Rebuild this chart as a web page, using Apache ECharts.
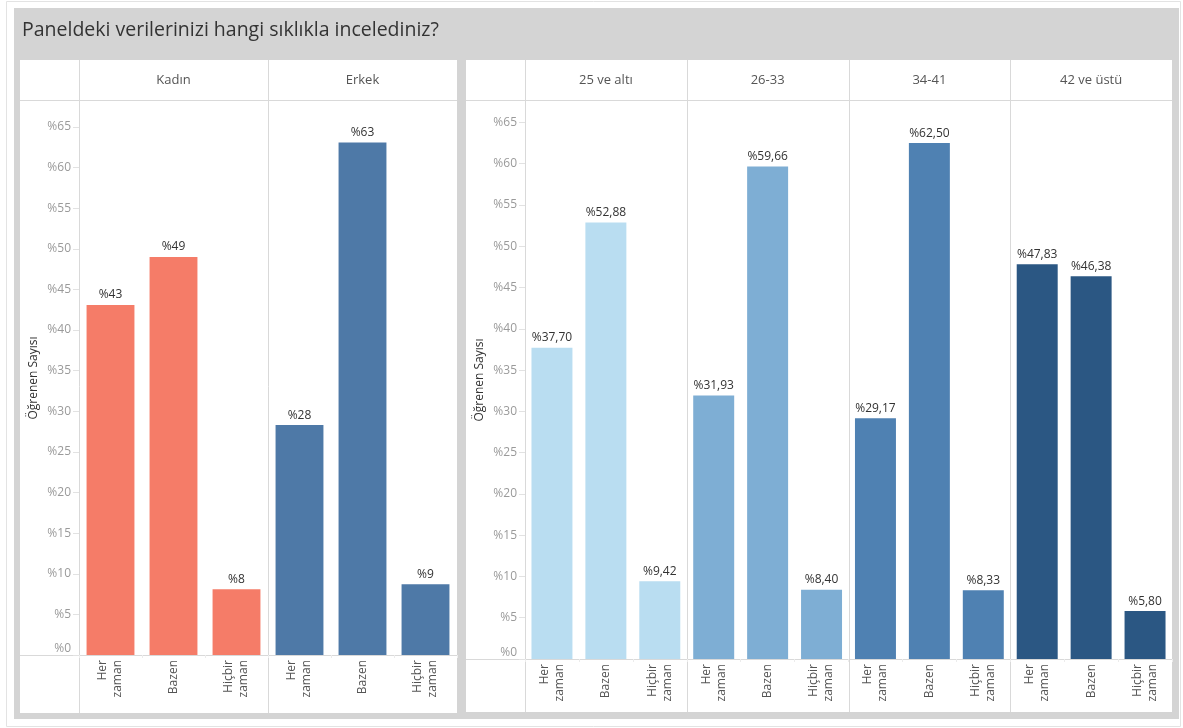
<!DOCTYPE html>
<html>
<head>
<meta charset="utf-8">
<title>Paneldeki verilerinizi hangi sıklıkla incelediniz?</title>
<script src="https://cdn.jsdelivr.net/npm/echarts@6/dist/echarts.min.js"></script>
<style>
  html, body { margin: 0; padding: 0; background: #ffffff; }
  #chart { width: 1183px; height: 728px; }
</style>
</head>
<body>
<div id="chart"></div>
<script>
// Survey answers: how often respondents review their panel data (percent of learners)
const categories = ['Her\nzaman', 'Bazen', 'Hiçbir\nzaman'];

const genderGroups = ['Kadın', 'Erkek'];
const kadinValues = [43.1, 49.0, 8.1];
const erkekValues = [28.3, 63.1, 8.7];

const ageGroups = ['25 ve altı', '26-33', '34-41', '42 ve üstü'];
const age25Values = [37.70, 52.88, 9.42];
const age26Values = [31.93, 59.66, 8.40];
const age34Values = [29.17, 62.50, 8.33];
const age42Values = [47.83, 46.38, 5.80];

const yTicks = [0, 5, 10, 15, 20, 25, 30, 35, 40, 45, 50, 55, 60, 65];

const titleText = 'Paneldeki verilerinizi hangi sıklıkla incelediniz?';
const yAxisTitle = 'Öğrenen Sayısı';

const genderColors = ['#f57c68', '#4e79a7'];
const ageColors = ['#b9ddf1', '#7eaed4', '#4f81b2', '#2b5783'];

const FONT = '"Open Sans", "Noto Sans", sans-serif';
const LINE = '#d9d9d9';

// Panel geometry
const left = { x0: 20, x1: 457, axisX: 79, top: 101, zero: 655, bottom: 713, max: 68.2 };
const right = { x0: 466, x1: 1172, axisX: 525, top: 101, zero: 659, bottom: 712, max: 67.6 };

const genderSeries = [kadinValues, erkekValues];
const ageSeries = [age25Values, age26Values, age34Values, age42Values];

const fmtInt = p => '%' + Math.round(p.value);
const fmtDec = p => '%' + p.value.toFixed(2).replace('.', ',');

const grids = [], xAxes = [], yAxes = [], series = [], graphics = [];

function facetBounds(panel, count) {
  const w = (panel.x1 - panel.axisX) / count;
  const out = [];
  for (let i = 0; i < count; i++) {
    out.push([panel.axisX + i * w, panel.axisX + (i + 1) * w]);
  }
  return out;
}

function addFacet(panel, x0, x1, values, color, firstInPanel, fmt) {
  const idx = grids.length;
  grids.push({
    left: x0, width: x1 - x0,
    top: panel.top, height: panel.zero - panel.top,
    containLabel: false
  });
  xAxes.push({
    type: 'category', gridIndex: idx, data: categories,
    axisLine: { show: true, lineStyle: { color: LINE, width: 1 } },
    axisTick: { show: true, length: 3, interval: 0, lineStyle: { color: '#ececec' } },
    axisLabel: {
      interval: 0, rotate: 90, margin: 5,
      color: '#555', fontFamily: FONT, fontSize: 12, lineHeight: 15
    },
    splitLine: { show: false }
  });
  yAxes.push({
    type: 'value', gridIndex: idx, min: 0, max: panel.max, interval: 5,
    show: firstInPanel,
    name: firstInPanel ? yAxisTitle : '',
    nameLocation: 'middle', nameRotate: 90, nameGap: 39,
    nameTextStyle: { color: '#333', fontFamily: FONT, fontSize: 12 },
    axisLine: { show: false },
    axisTick: {
      show: true, length: 6, customValues: yTicks,
      lineStyle: { color: '#e2e2e2' }
    },
    axisLabel: {
      customValues: yTicks, margin: 8,
      color: '#9a9a9a', fontFamily: FONT, fontSize: 12,
      formatter: v => (v === 0 ? '{z|%0}' : '%' + v),
      rich: { z: { color: '#9a9a9a', fontFamily: FONT, fontSize: 12, padding: [0, 0, 12, 0] } }
    },
    splitLine: { show: false }
  });
  series.push({
    type: 'bar', xAxisIndex: idx, yAxisIndex: idx,
    data: values, barCategoryGap: '24%',
    itemStyle: { color: color },
    label: {
      show: true, position: 'top', distance: 4,
      color: '#333', fontFamily: FONT, fontSize: 12,
      formatter: fmt
    }
  });
}

// Left panel: gender
facetBounds(left, genderGroups.length).forEach((b, i) => {
  addFacet(left, b[0], b[1], genderSeries[i], genderColors[i], i === 0, fmtInt);
});
// Right panel: age
facetBounds(right, ageGroups.length).forEach((b, i) => {
  addFacet(right, b[0], b[1], ageSeries[i], ageColors[i], i === 0, fmtDec);
});

// Frames, headers and dividers
graphics.push({ type: 'rect', z: -20, shape: { x: 6.5, y: 1.5, width: 1174, height: 725 },
  style: { fill: '#ffffff', stroke: '#e3e3e3', lineWidth: 1 } });
graphics.push({ type: 'rect', z: -19, shape: { x: 14, y: 8, width: 1165, height: 711 },
  style: { fill: '#d4d4d4' } });
graphics.push({ type: 'text', z: -10, x: 22, y: 30,
  style: { text: titleText, fill: '#333', font: '19.5px ' + FONT, textVerticalAlign: 'middle' } });

function panelFrame(panel, headers) {
  graphics.push({ type: 'rect', z: -18,
    shape: { x: panel.x0, y: 60, width: panel.x1 - panel.x0, height: panel.bottom - 60 },
    style: { fill: '#ffffff' } });
  // header separator
  graphics.push({ type: 'line', z: -15,
    shape: { x1: panel.x0, y1: 100.5, x2: panel.x1, y2: 100.5 },
    style: { stroke: LINE, lineWidth: 1 } });
  // zero line under the y-axis column
  graphics.push({ type: 'line', z: -15,
    shape: { x1: panel.x0, y1: panel.zero + 0.5, x2: panel.axisX, y2: panel.zero + 0.5 },
    style: { stroke: LINE, lineWidth: 1 } });
  const bounds = facetBounds(panel, headers.length);
  bounds.forEach((b, i) => {
    const x = Math.round(b[0]) + 0.5;
    graphics.push({ type: 'line', z: -15,
      shape: { x1: x, y1: 60, x2: x, y2: panel.bottom },
      style: { stroke: LINE, lineWidth: 1 } });
    graphics.push({ type: 'text', z: -10, x: (b[0] + b[1]) / 2, y: 80,
      style: { text: headers[i], fill: '#555', font: '13px ' + FONT,
        textAlign: 'center', textVerticalAlign: 'middle' } });
  });
}
panelFrame(left, genderGroups);
panelFrame(right, ageGroups);

const chart = echarts.init(document.getElementById('chart'), null, { renderer: 'canvas' });
chart.setOption({
  backgroundColor: '#ffffff',
  animation: false,
  textStyle: { fontFamily: FONT },
  grid: grids,
  xAxis: xAxes,
  yAxis: yAxes,
  series: series,
  graphic: { elements: graphics }
});
</script>
</body>
</html>
